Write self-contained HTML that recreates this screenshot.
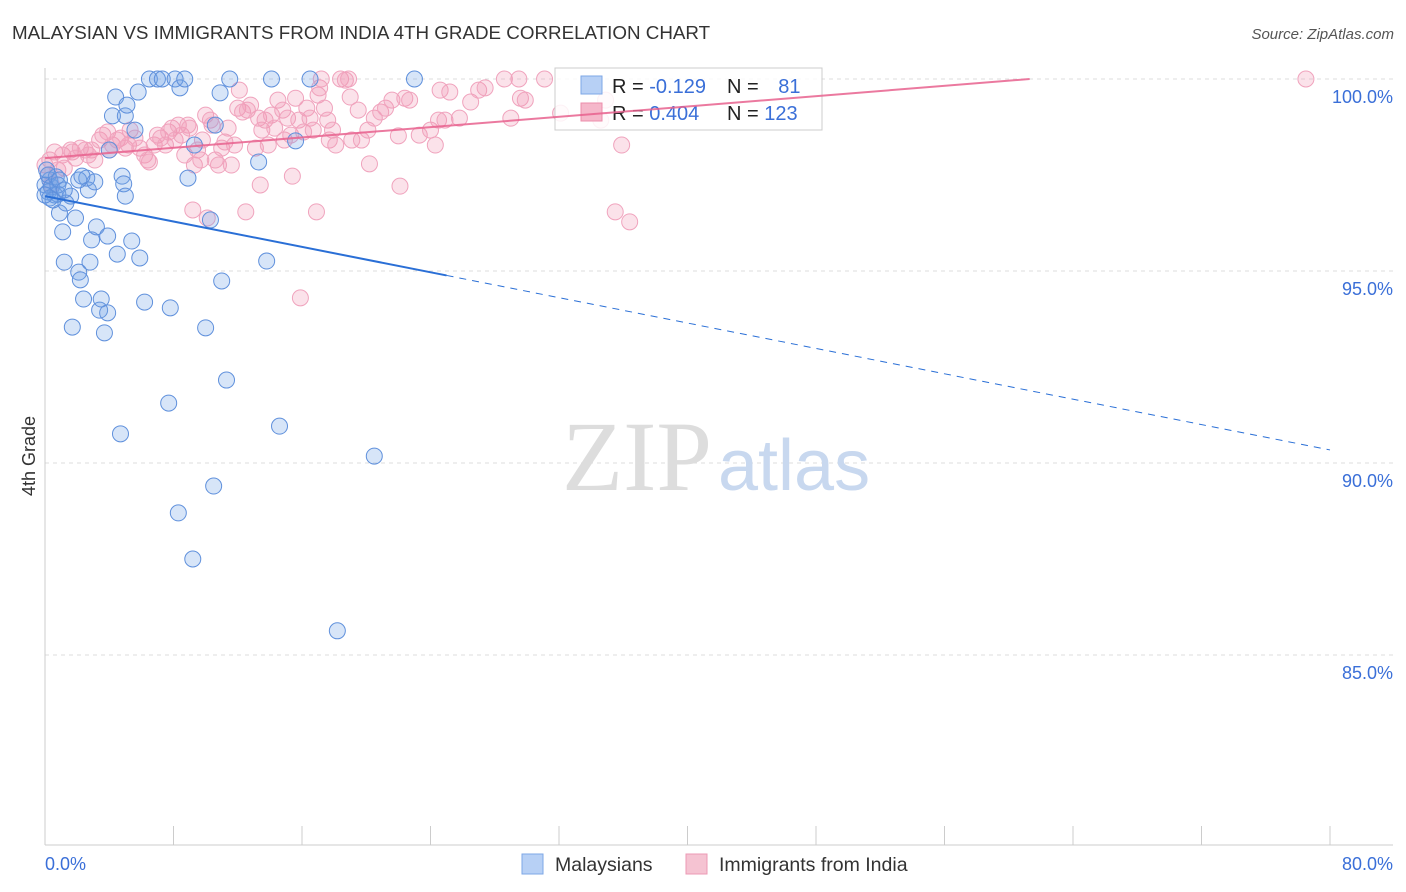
<!DOCTYPE html>
<html><head><meta charset="utf-8">
<style>
body{margin:0;background:#fff;font-family:"Liberation Sans",sans-serif;}
svg{display:block}
</style></head>
<body>
<svg id="chart" width="1406" height="892">
<text x="12" y="39" font-size="18.8" fill="#333">MALAYSIAN VS IMMIGRANTS FROM INDIA 4TH GRADE CORRELATION CHART</text>
<text x="1394" y="39" font-size="15" fill="#555" font-style="italic" text-anchor="end">Source: ZipAtlas.com</text>
<text x="35" y="456" font-size="18" fill="#333" transform="rotate(-90 35 456)" text-anchor="middle">4th Grade</text>
<g id="grid"></g>
<text x="712" y="490" font-size="100" fill="#ddd" text-anchor="end" font-family="Liberation Serif,serif">ZIP</text>
<text x="718" y="490" font-size="72" fill="#c8d8ef">atlas</text>
<g id="marks"></g>
<g>
<rect x="555" y="68" width="267" height="62" fill="rgba(255,255,255,0.85)" stroke="#ccc"/>
<rect x="581" y="76" width="21" height="18" fill="#b7d0f5" stroke="#7ea7e6"/>
<rect x="581" y="103" width="21" height="18" fill="#f5b7ca" stroke="#ec8dab"/>
<text x="612" y="93" font-size="20" fill="#222">R = <tspan fill="#3a6fd8">-0.129</tspan></text>
<text x="727" y="93" font-size="20" fill="#222">N = <tspan fill="#3a6fd8" dx="14">81</tspan></text>
<text x="612" y="120" font-size="20" fill="#222">R = <tspan fill="#3a6fd8">0.404</tspan></text>
<text x="727" y="120" font-size="20" fill="#222">N = <tspan fill="#3a6fd8">123</tspan></text>
</g>
<g id="trends"></g>
<g>
<rect x="522" y="854" width="21" height="20" fill="#b7d0f5" stroke="#7ea7e6"/>
<text x="555" y="871" font-size="19.5" fill="#333">Malaysians</text>
<rect x="686" y="854" width="21" height="20" fill="#f5c3d2" stroke="#ec9ab4"/>
<text x="719" y="871" font-size="19.5" fill="#333">Immigrants from India</text>
</g>
</svg>
<script>
const xTicks=[0,8,16,24,32,40,48,56,64,72,80];
const yTicks=[100,95,90,85];
const yTickLabels=["100.0%","95.0%","90.0%","85.0%"];
const xEndLabels=["0.0%","80.0%"];
const blueX=[0.0,0.3,0.6,0.2,0.9,1.1,1.2,1.6,1.7,1.9,2.1,2.2,2.4,2.6,2.7,2.8,2.9,3.1,3.2,3.4,3.5,3.7,3.9,3.9,4.0,4.2,4.4,4.5,4.7,4.8,4.9,5.0,5.0,5.1,5.4,5.6,5.8,5.9,6.2,6.5,7.0,7.3,7.7,7.8,8.1,8.3,8.4,8.7,8.9,9.2,9.3,10.0,10.3,10.5,10.6,10.9,11.0,11.3,11.5,13.3,13.8,14.1,14.6,15.6,16.5,18.2,20.5,23.0,0.2,0.4,0.8,0.7,1.3,2.1,0.3,0.1,0.5,0.8,2.3,0.0,0.9,1.2];
const blueY=[97.24,97.37,96.98,97.5,96.51,96.02,95.23,96.95,93.54,96.38,94.97,94.77,94.27,97.42,97.11,95.23,95.81,97.32,96.15,93.98,94.27,93.39,95.91,93.91,98.15,99.04,99.53,95.44,90.76,97.47,97.27,96.95,99.04,99.32,95.78,98.67,99.66,95.34,94.19,100,100,100,91.56,94.04,100,88.7,99.77,100,97.42,87.5,98.28,93.52,96.33,89.4,98.8,99.64,94.74,92.16,100,97.84,95.26,100,90.96,98.39,100,85.63,90.18,100,97.06,97.19,97.0,97.45,96.77,97.37,96.9,97.63,96.85,97.24,97.47,96.98,97.37,97.11];
const pinkX=[0.3,0.6,0.8,1.1,1.2,1.6,1.7,1.9,2.2,2.5,2.7,2.9,3.1,3.4,3.6,3.9,4.0,4.2,4.5,4.7,5.0,5.2,5.3,5.6,5.9,6.2,6.4,6.5,6.8,7.0,7.2,7.5,7.7,7.9,8.1,8.3,8.5,8.7,8.9,9.0,9.2,9.3,9.5,9.7,9.8,10.0,10.1,10.3,10.4,10.6,10.8,11.0,11.2,11.4,11.6,11.8,12.0,12.1,12.3,12.5,12.6,12.8,13.1,13.3,13.4,13.5,13.7,13.9,14.1,14.3,14.5,14.8,14.9,15.1,15.3,15.4,15.6,15.8,15.9,16.1,16.3,16.5,16.7,16.9,17.0,17.1,17.2,17.4,17.6,17.7,17.9,18.1,18.4,18.7,18.9,19.0,19.1,19.5,19.7,20.1,20.2,20.5,20.9,21.2,21.6,22.0,22.1,22.4,22.7,23.3,24.0,24.3,24.5,24.6,24.9,25.2,25.8,26.5,27.0,27.4,28.6,29.0,29.5,29.6,29.9,31.1,32.1,34.6,34.9,35.5,35.9,36.4,78.5,0,0.2,0.4];
const pinkY=[97.89,98.1,97.63,98.02,97.68,98.15,98.1,97.94,98.2,98.15,98.02,98.15,97.89,98.41,98.54,98.62,98.15,98.28,98.41,98.46,98.2,98.28,98.67,98.46,98.2,98.02,97.89,97.84,98.28,98.54,98.46,98.28,98.62,98.72,98.41,98.8,98.54,98.02,98.8,98.72,96.59,97.76,98.15,97.89,98.41,99.06,96.38,98.93,98.8,97.89,97.76,98.2,98.36,98.72,97.76,98.28,99.24,99.71,99.14,96.54,99.19,99.32,98.2,98.98,97.24,98.67,98.93,98.28,99.06,98.72,99.45,99.19,98.41,98.98,98.54,97.47,99.5,98.93,94.3,98.62,99.24,98.98,98.67,96.54,99.58,99.77,100,99.24,98.93,98.41,98.67,98.28,100,99.97,100,99.53,98.41,99.19,98.41,98.67,97.79,98.98,99.14,99.24,99.45,98.52,97.21,99.5,99.45,98.54,98.67,98.28,98.93,99.71,98.93,99.66,98.98,99.4,99.71,99.77,100,98.98,100,99.5,99.45,100,99.11,98.93,99.45,96.54,98.28,96.28,100,97.76,97.5,97.24];
const blueTrend=[96.95,90.34];
const blueSolidEnd=25;
const pinkTrend=[97.94,100];
const pinkTrendEnd=61.3;

const X0=45,X1=1330,Y0=79;
const xs=v=>X0+(v/80)*(X1-X0);
const ys=v=>Y0+(100-v)*38.4;
const NS="http://www.w3.org/2000/svg";
function mk(tag,attrs,parent){const e=document.createElementNS(NS,tag);for(const k in attrs)e.setAttribute(k,attrs[k]);parent.appendChild(e);return e;}
const grid=document.getElementById('grid');
yTicks.forEach((t,i)=>{
  const l=mk('line',{x1:X0,x2:1393,y1:ys(t),y2:ys(t),stroke:'#ddd','stroke-dasharray':'4,4'},grid);
  
  
  const tx=mk('text',{x:1393,y:ys(t)+24,'font-size':18,fill:'#3a6fd8','text-anchor':'end'},grid);
  tx.textContent=yTickLabels[i];
  
  
});
const ax=mk('line',{x1:X0,x2:1393,y1:845,y2:845,stroke:'#ccc'},grid);


const ay=mk('line',{x1:X0,x2:X0,y1:68,y2:845,stroke:'#ccc'},grid);


xTicks.forEach(t=>{
  const l=mk('line',{x1:xs(t),x2:xs(t),y1:826,y2:845,stroke:'#ccc'},grid);
  
  
});
const xl0=mk('text',{x:45,y:870,'font-size':18,fill:'#3a6fd8'},grid);
xl0.textContent=xEndLabels[0];


const xl1=mk('text',{x:1393,y:870,'font-size':18,fill:'#3a6fd8','text-anchor':'end'},grid);
xl1.textContent=xEndLabels[1];



const marks=document.getElementById('marks');
pinkX.forEach((v,i)=>{
  const c=mk('circle',{cx:xs(v),cy:ys(pinkY[i]),r:8,fill:'rgba(240,150,180,0.28)',stroke:'#f0a3bd','stroke-width':1},marks);
  
  
});
blueX.forEach((v,i)=>{
  const c=mk('circle',{cx:xs(v),cy:ys(blueY[i]),r:8,fill:'rgba(110,160,230,0.28)',stroke:'#5f90dc','stroke-width':1},marks);
  
  
});
const tr=document.getElementById('trends');
const by=x=>blueTrend[0]+(blueTrend[1]-blueTrend[0])*x/80;
const b1=mk('line',{x1:xs(0),y1:ys(by(0)),x2:xs(blueSolidEnd),y2:ys(by(blueSolidEnd)),stroke:'#2a6fd6','stroke-width':2},tr);


const b2=mk('line',{x1:xs(blueSolidEnd),y1:ys(by(blueSolidEnd)),x2:xs(80),y2:ys(by(80)),stroke:'#2a6fd6','stroke-width':1,'stroke-dasharray':'7,6'},tr);


const p1=mk('line',{x1:xs(0),y1:ys(pinkTrend[0]),x2:xs(pinkTrendEnd),y2:ys(pinkTrend[1]),stroke:'#e8618e','stroke-width':2,'stroke-opacity':0.85},tr);


</script>
</body></html>
